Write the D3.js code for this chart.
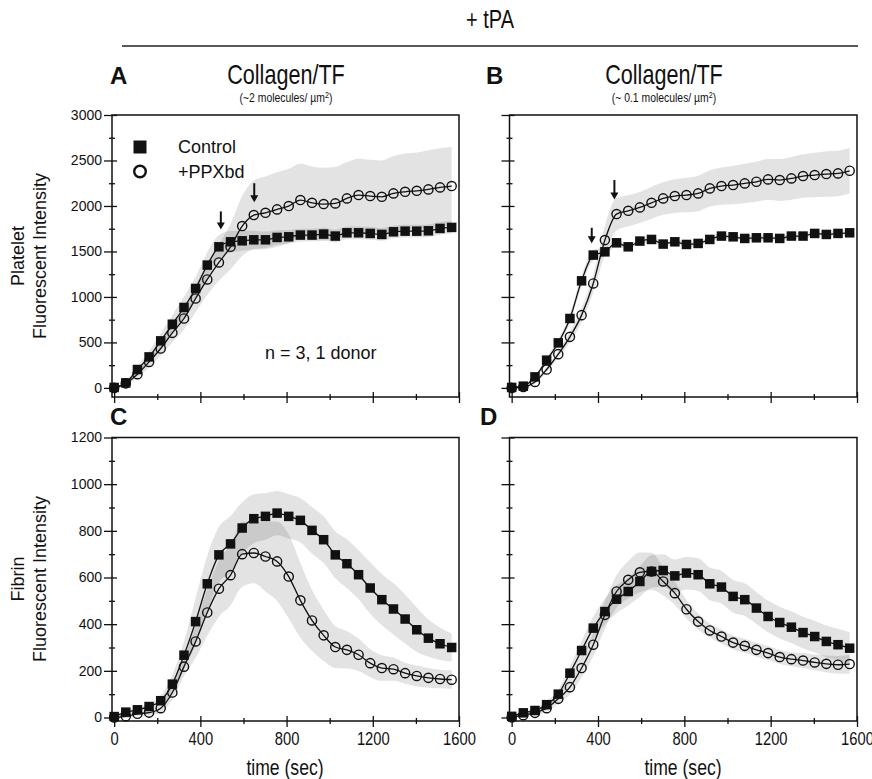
<!DOCTYPE html>
<html>
<head>
<meta charset="utf-8">
<script src="https://cdn.jsdelivr.net/npm/d3@7"></script>
<style>
  body { margin: 0; background: #fff; }
  svg { display: block; }
  text { font-family: "Liberation Sans", Arial, sans-serif; fill: #111; }
</style>
</head>
<body>
<svg id="chart" width="872" height="779"></svg>
<script>
// sample times (sec)
var time = [0, 54, 108, 162, 216, 270, 324, 378, 432, 486, 540, 594, 648, 702, 756,
            810, 864, 918, 972, 1026, 1080, 1134, 1188, 1242, 1296, 1350, 1404, 1458, 1512, 1566];

var timeTicks = [0, 400, 800, 1200, 1600];
var plateletTicks = [0, 500, 1000, 1500, 2000, 2500, 3000];
var fibrinTicks = [0, 200, 400, 600, 800, 1000, 1200];

// A: platelet, collagen/TF ~2 molecules/um2
var plateletHighControl = [5, 55, 202, 341, 517, 700, 884, 1093, 1350, 1551, 1606, 1617, 1628, 1628, 1654,
                           1661, 1680, 1680, 1691, 1669, 1705, 1705, 1698, 1687, 1716, 1723, 1723, 1727, 1753, 1764];
var plateletHighControlSD = [10, 20, 40, 60, 80, 100, 120, 130, 140, 130, 120, 110, 100, 90, 80,
                             75, 70, 70, 70, 70, 70, 70, 70, 70, 70, 70, 70, 70, 70, 70];
var plateletHighPPX = [0, 50, 151, 286, 433, 605, 763, 983, 1192, 1379, 1551, 1779, 1900, 1925, 1962,
                       1999, 2065, 2035, 2021, 2028, 2083, 2120, 2109, 2101, 2138, 2156, 2167, 2182, 2204, 2219];
var plateletHighPPXSD = [10, 20, 40, 60, 80, 100, 120, 150, 170, 200, 250, 330, 380, 400, 410,
                         410, 400, 400, 400, 400, 400, 400, 400, 400, 410, 420, 420, 430, 430, 430];

// B: platelet, collagen/TF ~0.1 molecules/um2
var plateletLowControl = [5, 19, 121, 305, 495, 763, 1177, 1460, 1496, 1595, 1551, 1614, 1632, 1581, 1606,
                          1577, 1588, 1632, 1669, 1661, 1643, 1650, 1650, 1643, 1669, 1669, 1698, 1687, 1698, 1705];
var plateletLowControlSD = [10, 15, 20, 30, 40, 50, 60, 60, 50, 40, 30, 30, 30, 30, 30,
                            30, 30, 30, 30, 30, 30, 30, 30, 30, 30, 30, 30, 30, 30, 30];
var plateletLowPPX = [0, 10, 66, 202, 371, 561, 800, 1148, 1625, 1911, 1947, 1984, 2035, 2083, 2109,
                      2120, 2138, 2193, 2219, 2230, 2248, 2266, 2292, 2285, 2303, 2329, 2340, 2351, 2358, 2387];
var plateletLowPPXSD = [10, 15, 20, 30, 40, 60, 80, 100, 160, 180, 170, 170, 175, 180, 185,
                        190, 195, 200, 205, 210, 215, 220, 225, 230, 235, 240, 245, 250, 250, 250];

// C: fibrin, collagen/TF ~2 molecules/um2
var fibrinHighControl = [4, 23, 33, 47, 72, 143, 267, 411, 573, 697, 744, 812, 852, 862, 876,
                         862, 845, 802, 762, 697, 659, 612, 555, 505, 465, 422, 376, 340, 316, 300];
var fibrinHighControlSD = [5, 8, 10, 12, 20, 40, 60, 100, 120, 120, 120, 110, 105, 100, 95,
                           95, 95, 100, 100, 100, 105, 105, 110, 110, 110, 105, 95, 80, 70, 60];
var fibrinHighPPX = [0, 5, 16, 21, 40, 107, 218, 326, 450, 552, 610, 700, 705, 690, 669,
                     604, 502, 416, 352, 302, 290, 269, 233, 212, 207, 190, 178, 170, 165, 162];
var fibrinHighPPXSD = [5, 8, 10, 12, 20, 30, 40, 70, 100, 120, 130, 140, 130, 150, 170,
                       180, 160, 130, 110, 90, 80, 70, 60, 55, 50, 45, 45, 42, 40, 40];

// D: fibrin, collagen/TF ~0.1 molecules/um2
var fibrinLowControl = [5, 20, 30, 55, 100, 190, 287, 383, 454, 507, 540, 583, 626, 630, 607,
                        619, 612, 573, 559, 519, 505, 469, 433, 407, 387, 364, 347, 326, 312, 297];
var fibrinLowControlSD = [5, 8, 10, 15, 20, 30, 40, 50, 55, 60, 60, 65, 70, 70, 70,
                          70, 70, 70, 70, 70, 70, 68, 68, 68, 68, 68, 68, 68, 68, 68];
var fibrinLowPPX = [0, 10, 20, 40, 80, 130, 212, 312, 440, 540, 590, 622, 626, 583, 533,
                    464, 411, 373, 347, 321, 307, 290, 276, 259, 250, 244, 236, 230, 226, 229];
var fibrinLowPPXSD = [5, 8, 10, 15, 20, 30, 40, 50, 60, 70, 80, 85, 80, 60, 50,
                      40, 35, 30, 30, 30, 30, 30, 30, 30, 30, 32, 34, 36, 38, 40];

// arrows (time, start value, tip value)
var arrowsA = [[495, 1940, 1740], [650, 2250, 2040]];
var arrowsB = [[371, 1760, 1590], [476, 2285, 2070]];

var svg = d3.select('#chart');

var panels = [
  { id: 'A', left: 112, right: 459, top: 115, bottom: 397, yDomain: [-100, 3000], yTicks: plateletTicks,
    ctrl: plateletHighControl, ctrlSD: plateletHighControlSD, ppx: plateletHighPPX, ppxSD: plateletHighPPXSD,
    arrows: arrowsA, yLabels: true, xLabels: false },
  { id: 'B', left: 509.5, right: 857, top: 115, bottom: 397, yDomain: [-100, 3000], yTicks: plateletTicks,
    ctrl: plateletLowControl, ctrlSD: plateletLowControlSD, ppx: plateletLowPPX, ppxSD: plateletLowPPXSD,
    arrows: arrowsB, yLabels: false, xLabels: false },
  { id: 'C', left: 112, right: 459, top: 437.5, bottom: 721, yDomain: [-15, 1200], yTicks: fibrinTicks,
    ctrl: fibrinHighControl, ctrlSD: fibrinHighControlSD, ppx: fibrinHighPPX, ppxSD: fibrinHighPPXSD,
    arrows: [], yLabels: true, xLabels: true },
  { id: 'D', left: 509.5, right: 857, top: 437.5, bottom: 721, yDomain: [-15, 1200], yTicks: fibrinTicks,
    ctrl: fibrinLowControl, ctrlSD: fibrinLowControlSD, ppx: fibrinLowPPX, ppxSD: fibrinLowPPXSD,
    arrows: [], yLabels: false, xLabels: true }
];

function midpoints(arr) {
  var out = [];
  for (var i = 0; i < arr.length - 1; i++) out.push((arr[i] + arr[i + 1]) / 2);
  return out;
}

// condensed text (no narrow font installed, so squeeze horizontally)
function narrowText(x, y, size, str) {
  return svg.append('text')
    .attr('transform', 'translate(' + x + ',' + y + ') scale(0.8,1)')
    .attr('text-anchor', 'middle').attr('font-size', size).text(str);
}

function drawPanel(p) {
  var x = d3.scaleLinear().domain([-10, 1600]).range([p.left, p.right]);
  var y = d3.scaleLinear().domain(p.yDomain).range([p.bottom, p.top]);
  var g = svg.append('g').attr('class', 'panel-' + p.id);

  g.append('clipPath').attr('id', 'clip-' + p.id)
    .append('rect').attr('x', p.left).attr('y', p.top)
    .attr('width', p.right - p.left).attr('height', p.bottom - p.top);

  var pts = time.map(function(t, i) {
    return { t: t, c: p.ctrl[i], cs: p.ctrlSD[i], o: p.ppx[i], os: p.ppxSD[i] };
  });

  var bandPPX = d3.area().curve(d3.curveMonotoneX)
    .x(function(d) { return x(d.t); })
    .y0(function(d) { return y(d.o - d.os); })
    .y1(function(d) { return y(d.o + d.os); });
  var bandCtrl = d3.area().curve(d3.curveMonotoneX)
    .x(function(d) { return x(d.t); })
    .y0(function(d) { return y(d.c - d.cs); })
    .y1(function(d) { return y(d.c + d.cs); });
  var linePPX = d3.line().curve(d3.curveMonotoneX)
    .x(function(d) { return x(d.t); }).y(function(d) { return y(d.o); });
  var lineCtrl = d3.line().curve(d3.curveMonotoneX)
    .x(function(d) { return x(d.t); }).y(function(d) { return y(d.c); });

  var plot = g.append('g').attr('clip-path', 'url(#clip-' + p.id + ')');
  plot.append('path').datum(pts).attr('d', bandPPX).attr('fill', '#000').attr('fill-opacity', 0.11);
  plot.append('path').datum(pts).attr('d', bandCtrl).attr('fill', '#000').attr('fill-opacity', 0.11);
  plot.append('path').datum(pts).attr('d', lineCtrl).attr('fill', 'none').attr('stroke', '#111').attr('stroke-width', 1.3);
  plot.append('path').datum(pts).attr('d', linePPX).attr('fill', 'none').attr('stroke', '#111').attr('stroke-width', 1.3);

  var s = 9.5;
  g.selectAll('rect.sq').data(pts).enter().append('rect').attr('class', 'sq')
    .attr('x', function(d) { return x(d.t) - s / 2; })
    .attr('y', function(d) { return y(d.c) - s / 2; })
    .attr('width', s).attr('height', s).attr('fill', '#111');
  g.selectAll('circle.ci').data(pts).enter().append('circle').attr('class', 'ci')
    .attr('cx', function(d) { return x(d.t); })
    .attr('cy', function(d) { return y(d.o); })
    .attr('r', 4.6).attr('fill', 'none').attr('stroke', '#111').attr('stroke-width', 1.4);

  // arrows
  p.arrows.forEach(function(a) {
    var ax = x(a[0]), y0 = y(a[1]), y1 = y(a[2]);
    g.append('line').attr('x1', ax).attr('x2', ax).attr('y1', y0).attr('y2', y1 - 5)
      .attr('stroke', '#111').attr('stroke-width', 2);
    g.append('path').attr('d', 'M' + (ax - 4) + ',' + (y1 - 7) + 'L' + (ax + 4) + ',' + (y1 - 7) + 'L' + ax + ',' + y1 + 'Z')
      .attr('fill', '#111');
  });

  // frame
  g.append('rect').attr('x', p.left).attr('y', p.top)
    .attr('width', p.right - p.left).attr('height', p.bottom - p.top)
    .attr('fill', 'none').attr('stroke', '#111').attr('stroke-width', 1.5);

  function noDomain(sel) { sel.select('.domain').remove(); sel.selectAll('line').attr('stroke', '#111').attr('stroke-width', 1.3); }

  // x axis ticks
  var xg = g.append('g').attr('transform', 'translate(0,' + p.bottom + ')')
    .call(d3.axisBottom(x).tickValues(timeTicks).tickSize(6).tickPadding(5)
      .tickFormat(p.xLabels ? d3.format('d') : ''))
    .call(noDomain);
  xg.selectAll('text').attr('font-size', 18).attr('fill', '#111').attr('transform', 'scale(0.82,1)');
  g.append('g').attr('transform', 'translate(0,' + p.bottom + ')')
    .call(d3.axisBottom(x).tickValues(timeTicks).tickSize(-5).tickFormat('')).call(noDomain);
  g.append('g').attr('transform', 'translate(0,' + p.bottom + ')')
    .call(d3.axisBottom(x).tickValues(midpoints(timeTicks)).tickSize(3).tickFormat('')).call(noDomain);
  g.append('g').attr('transform', 'translate(0,' + p.bottom + ')')
    .call(d3.axisBottom(x).tickValues(midpoints(timeTicks)).tickSize(-3).tickFormat('')).call(noDomain);

  // y axis ticks
  var yg = g.append('g').attr('transform', 'translate(' + p.left + ',0)')
    .call(d3.axisLeft(y).tickValues(p.yTicks).tickSize(8).tickPadding(2)
      .tickFormat(p.yLabels ? d3.format('d') : ''))
    .call(noDomain);
  yg.selectAll('text').attr('font-size', 14).attr('fill', '#222');
  g.append('g').attr('transform', 'translate(' + p.left + ',0)')
    .call(d3.axisLeft(y).tickValues(p.yTicks).tickSize(-5).tickFormat('')).call(noDomain);
  g.append('g').attr('transform', 'translate(' + p.left + ',0)')
    .call(d3.axisLeft(y).tickValues(midpoints(p.yTicks)).tickSize(3).tickFormat('')).call(noDomain);
  g.append('g').attr('transform', 'translate(' + p.left + ',0)')
    .call(d3.axisLeft(y).tickValues(midpoints(p.yTicks)).tickSize(-3).tickFormat('')).call(noDomain);

  // panel letter
  svg.append('text').attr('x', p.id === 'A' || p.id === 'C' ? 110 : (p.id === 'B' ? 486 : 480))
    .attr('y', p.id === 'A' || p.id === 'B' ? 84 : 425)
    .attr('font-size', 24).attr('font-weight', 'bold').text(p.id);
}

panels.forEach(drawPanel);

// header
narrowText(490, 28, 25, '+ tPA');
svg.append('line').attr('x1', 122).attr('x2', 858).attr('y1', 46).attr('y2', 46)
  .attr('stroke', '#222').attr('stroke-width', 1.6);

[[286, '(~2 molecules/ µm'], [664, '(~ 0.1 molecules/ µm']].forEach(function(h) {
  narrowText(h[0], 84, 27, 'Collagen/TF');
  var t = narrowText(h[0], 102, 13, null);
  t.append('tspan').text(h[1]);
  t.append('tspan').attr('font-size', 9).attr('dy', -4).text('2');
  t.append('tspan').attr('dy', 4).text(')');
});

// y titles
[[256, 'Platelet'], [579, 'Fibrin']].forEach(function(h) {
  svg.append('text').attr('transform', 'translate(24,' + h[0] + ') rotate(-90)')
    .attr('text-anchor', 'middle').attr('font-size', 18).text(h[1]);
  svg.append('text').attr('transform', 'translate(46,' + h[0] + ') rotate(-90)')
    .attr('text-anchor', 'middle').attr('font-size', 18).text('Fluorescent Intensity');
});

// x titles
[285, 683].forEach(function(cx) {
  narrowText(cx, 775, 22, 'time (sec)');
});

// legend
svg.append('rect').attr('x', 133.5).attr('y', 140.5).attr('width', 13).attr('height', 13).attr('fill', '#111');
svg.append('circle').attr('cx', 140).attr('cy', 171.5).attr('r', 5.8)
  .attr('fill', 'none').attr('stroke', '#111').attr('stroke-width', 2.4);
svg.append('text').attr('x', 178).attr('y', 153).attr('font-size', 18).text('Control');
svg.append('text').attr('x', 178).attr('y', 178).attr('font-size', 18).text('+PPXbd');
svg.append('text').attr('x', 265).attr('y', 359).attr('font-size', 18).text('n = 3, 1 donor');
</script>
</body>
</html>
